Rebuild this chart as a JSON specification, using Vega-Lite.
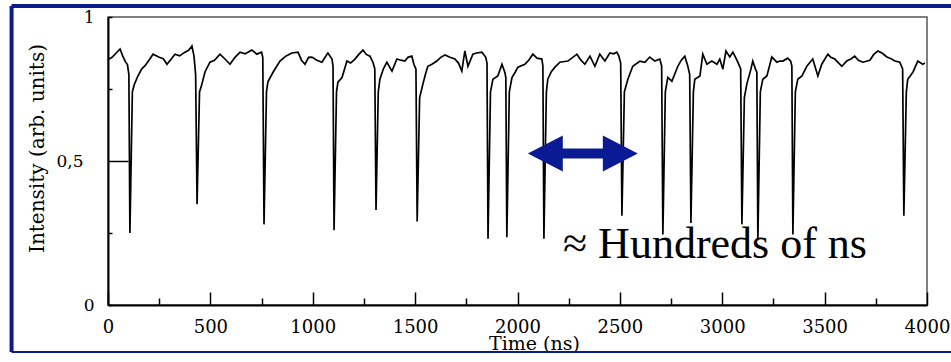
{
  "$schema": "https://vega.github.io/schema/vega-lite/v6.json",
  "width": 819,
  "height": 288,
  "autosize": {"type": "none"},
  "padding": {"left": 108, "top": 17, "right": 24, "bottom": 57},
  "background": "white",
  "config": {
    "view": {"stroke": "#555555", "strokeWidth": 1.5},
    "axis": {"grid": false, "domainColor": "black", "domainWidth": 2, "tickColor": "black", "tickWidth": 1.5, "labelColor": "black", "titleColor": "black", "labelFont": "DejaVu Serif", "titleFont": "DejaVu Serif", "titleFontWeight": "normal"}
  },
  "data": {"values": [
    {"t":0,"v":0.852},{"t":20,"v":0.86},{"t":40,"v":0.875},{"t":59,"v":0.889},{"t":72,"v":0.864},{"t":85,"v":0.845},{"t":95,"v":0.835},{"t":102,"v":0.8},{"t":107,"v":0.25},{"t":119,"v":0.74},{"t":128,"v":0.765},{"t":146,"v":0.795},{"t":165,"v":0.82},{"t":180,"v":0.83},{"t":200,"v":0.85},{"t":220,"v":0.871},{"t":250,"v":0.86},{"t":270,"v":0.855},{"t":288,"v":0.836},{"t":310,"v":0.855},{"t":327,"v":0.871},{"t":350,"v":0.865},{"t":376,"v":0.878},{"t":395,"v":0.885},{"t":410,"v":0.899},{"t":420,"v":0.864},{"t":428,"v":0.8},{"t":435,"v":0.35},{"t":447,"v":0.74},{"t":456,"v":0.76},{"t":474,"v":0.81},{"t":498,"v":0.843},{"t":520,"v":0.85},{"t":547,"v":0.871},{"t":570,"v":0.855},{"t":596,"v":0.836},{"t":620,"v":0.86},{"t":645,"v":0.878},{"t":670,"v":0.872},{"t":703,"v":0.885},{"t":727,"v":0.871},{"t":750,"v":0.878},{"t":756,"v":0.86},{"t":762,"v":0.28},{"t":774,"v":0.74},{"t":781,"v":0.775},{"t":806,"v":0.808},{"t":840,"v":0.847},{"t":870,"v":0.865},{"t":898,"v":0.875},{"t":928,"v":0.878},{"t":945,"v":0.85},{"t":962,"v":0.836},{"t":980,"v":0.86},{"t":996,"v":0.861},{"t":1020,"v":0.85},{"t":1045,"v":0.843},{"t":1060,"v":0.86},{"t":1074,"v":0.875},{"t":1094,"v":0.854},{"t":1099,"v":0.83},{"t":1104,"v":0.26},{"t":1116,"v":0.74},{"t":1123,"v":0.774},{"t":1143,"v":0.79},{"t":1167,"v":0.847},{"t":1185,"v":0.84},{"t":1206,"v":0.854},{"t":1225,"v":0.87},{"t":1245,"v":0.885},{"t":1262,"v":0.87},{"t":1279,"v":0.864},{"t":1294,"v":0.843},{"t":1303,"v":0.82},{"t":1309,"v":0.33},{"t":1320,"v":0.74},{"t":1328,"v":0.784},{"t":1345,"v":0.82},{"t":1362,"v":0.843},{"t":1387,"v":0.812},{"t":1411,"v":0.854},{"t":1430,"v":0.85},{"t":1450,"v":0.847},{"t":1465,"v":0.86},{"t":1484,"v":0.864},{"t":1494,"v":0.836},{"t":1504,"v":0.82},{"t":1510,"v":0.29},{"t":1522,"v":0.72},{"t":1538,"v":0.767},{"t":1550,"v":0.8},{"t":1562,"v":0.829},{"t":1580,"v":0.835},{"t":1606,"v":0.847},{"t":1625,"v":0.86},{"t":1646,"v":0.868},{"t":1670,"v":0.86},{"t":1694,"v":0.854},{"t":1712,"v":0.84},{"t":1728,"v":0.812},{"t":1743,"v":0.882},{"t":1758,"v":0.829},{"t":1782,"v":0.871},{"t":1800,"v":0.875},{"t":1826,"v":0.878},{"t":1845,"v":0.86},{"t":1851,"v":0.84},{"t":1856,"v":0.23},{"t":1868,"v":0.74},{"t":1880,"v":0.784},{"t":1904,"v":0.795},{"t":1924,"v":0.836},{"t":1938,"v":0.808},{"t":1943,"v":0.79},{"t":1948,"v":0.235},{"t":1960,"v":0.74},{"t":1973,"v":0.79},{"t":1990,"v":0.81},{"t":2002,"v":0.826},{"t":2036,"v":0.836},{"t":2055,"v":0.85},{"t":2075,"v":0.871},{"t":2095,"v":0.857},{"t":2119,"v":0.854},{"t":2124,"v":0.83},{"t":2129,"v":0.23},{"t":2141,"v":0.74},{"t":2148,"v":0.784},{"t":2165,"v":0.81},{"t":2183,"v":0.826},{"t":2207,"v":0.843},{"t":2246,"v":0.847},{"t":2270,"v":0.86},{"t":2290,"v":0.871},{"t":2310,"v":0.85},{"t":2329,"v":0.836},{"t":2354,"v":0.864},{"t":2378,"v":0.829},{"t":2402,"v":0.871},{"t":2427,"v":0.847},{"t":2451,"v":0.875},{"t":2470,"v":0.872},{"t":2485,"v":0.878},{"t":2495,"v":0.864},{"t":2504,"v":0.84},{"t":2510,"v":0.31},{"t":2522,"v":0.74},{"t":2539,"v":0.784},{"t":2563,"v":0.829},{"t":2598,"v":0.847},{"t":2622,"v":0.843},{"t":2646,"v":0.861},{"t":2671,"v":0.847},{"t":2695,"v":0.854},{"t":2704,"v":0.83},{"t":2710,"v":0.245},{"t":2722,"v":0.74},{"t":2734,"v":0.79},{"t":2754,"v":0.777},{"t":2783,"v":0.829},{"t":2800,"v":0.85},{"t":2817,"v":0.864},{"t":2832,"v":0.829},{"t":2841,"v":0.8},{"t":2847,"v":0.285},{"t":2859,"v":0.74},{"t":2866,"v":0.784},{"t":2891,"v":0.795},{"t":2905,"v":0.871},{"t":2925,"v":0.836},{"t":2949,"v":0.847},{"t":2974,"v":0.836},{"t":2988,"v":0.854},{"t":3003,"v":0.819},{"t":3018,"v":0.882},{"t":3037,"v":0.861},{"t":3052,"v":0.878},{"t":3065,"v":0.86},{"t":3076,"v":0.843},{"t":3090,"v":0.82},{"t":3096,"v":0.28},{"t":3108,"v":0.72},{"t":3120,"v":0.767},{"t":3140,"v":0.819},{"t":3149,"v":0.847},{"t":3162,"v":0.82},{"t":3169,"v":0.808},{"t":3174,"v":0.225},{"t":3186,"v":0.74},{"t":3198,"v":0.784},{"t":3218,"v":0.795},{"t":3242,"v":0.861},{"t":3267,"v":0.843},{"t":3281,"v":0.847},{"t":3296,"v":0.847},{"t":3320,"v":0.857},{"t":3334,"v":0.847},{"t":3340,"v":0.83},{"t":3345,"v":0.245},{"t":3357,"v":0.74},{"t":3369,"v":0.784},{"t":3389,"v":0.795},{"t":3413,"v":0.829},{"t":3442,"v":0.854},{"t":3467,"v":0.795},{"t":3486,"v":0.836},{"t":3516,"v":0.871},{"t":3530,"v":0.86},{"t":3550,"v":0.854},{"t":3584,"v":0.829},{"t":3608,"v":0.847},{"t":3630,"v":0.855},{"t":3647,"v":0.864},{"t":3665,"v":0.85},{"t":3687,"v":0.843},{"t":3721,"v":0.85},{"t":3740,"v":0.87},{"t":3760,"v":0.882},{"t":3780,"v":0.875},{"t":3804,"v":0.861},{"t":3825,"v":0.855},{"t":3843,"v":0.847},{"t":3867,"v":0.843},{"t":3881,"v":0.82},{"t":3887,"v":0.31},{"t":3899,"v":0.74},{"t":3906,"v":0.784},{"t":3931,"v":0.808},{"t":3955,"v":0.847},{"t":3979,"v":0.836},{"t":3990,"v":0.84}
  ]},
  "layer": [
    {
      "mark": {"type": "line", "color": "black", "strokeWidth": 1.7},
      "encoding": {
        "x": {"field": "t", "type": "quantitative",
          "scale": {"domain": [0, 4000], "nice": false, "zero": false},
          "axis": {
            "title": "Time (ns)", "titleFontSize": 19, "titleBaseline": "alphabetic", "titleX": 426, "titleY": 44,
            "values": [0,250,500,750,1000,1250,1500,1750,2000,2250,2500,2750,3000,3250,3500,3750,4000],
            "labelExpr": "datum.value % 500 == 0 ? format(datum.value, 'd') : ''",
            "labelFontSize": 18, "labelBaseline": "alphabetic", "labelPadding": 40, "labelFlush": false, "labelOverlap": false,
            "tickSize": {"condition": {"test": "datum.value % 500 == 0", "value": -13}, "value": -7}
          }
        },
        "y": {"field": "v", "type": "quantitative",
          "scale": {"domain": [0, 1], "nice": false},
          "axis": {
            "title": "Intensity (arb. units)", "titleFontSize": 20, "titleBaseline": "alphabetic", "titleX": -65, "titleY": 131, "titleAngle": -90, "titleAlign": "center",
            "values": [0, 0.25, 0.5, 0.75, 1],
            "labelExpr": "datum.value == 0 ? '0' : datum.value == 0.5 ? '0,5' : datum.value == 1 ? '1' : ''",
            "labelFontSize": 17, "labelAlign": "right", "labelBaseline": "middle", "labelFlush": false, "labelOverlap": false,
            "tickSize": {"condition": {"test": "datum.value == 0.5", "value": -20}, "value": -4},
            "labelPadding": {"condition": {"test": "datum.value == 0.5", "value": 45}, "value": 18}
          }
        }
      }
    },
    {
      "data": {"values": [{}]},
      "mark": {"type": "rule", "clip": false, "color": "#0b1a8c", "strokeWidth": 4},
      "encoding": {"x": {"datum": -471}, "x2": {"datum": 4400}, "y": {"datum": 1.038}}
    },
    {
      "data": {"values": [{}]},
      "mark": {"type": "rule", "clip": false, "color": "#0b1a8c", "strokeWidth": 4},
      "encoding": {"x": {"datum": -471}, "y": {"datum": -0.163}, "y2": {"datum": 1.038}}
    },
    {
      "data": {"values": [{}]},
      "mark": {"type": "rule", "clip": false, "color": "#0b1a8c", "strokeWidth": 2},
      "encoding": {"x": {"datum": -471}, "x2": {"datum": 4400}, "y": {"datum": -0.163}}
    },
    {
      "data": {"values": [{}]},
      "mark": {"type": "point", "filled": true, "opacity": 1, "color": "#0a1a94", "size": 12100,
        "shape": "M-1,0L-0.364,-0.327L-0.364,-0.091L0.364,-0.091L0.364,-0.327L1,0L0.364,0.327L0.364,0.091L-0.364,0.091L-0.364,0.327Z"},
      "encoding": {"x": {"datum": 2319}, "y": {"datum": 0.526}}
    },
    {
      "data": {"values": [{"note": "≈ Hundreds of ns"}]},
      "mark": {"type": "text", "font": "Liberation Serif", "fontSize": 44, "color": "black", "align": "left", "baseline": "alphabetic"},
      "encoding": {"x": {"datum": 2222}, "y": {"datum": 0.163}, "text": {"field": "note"}}
    }
  ]
}
